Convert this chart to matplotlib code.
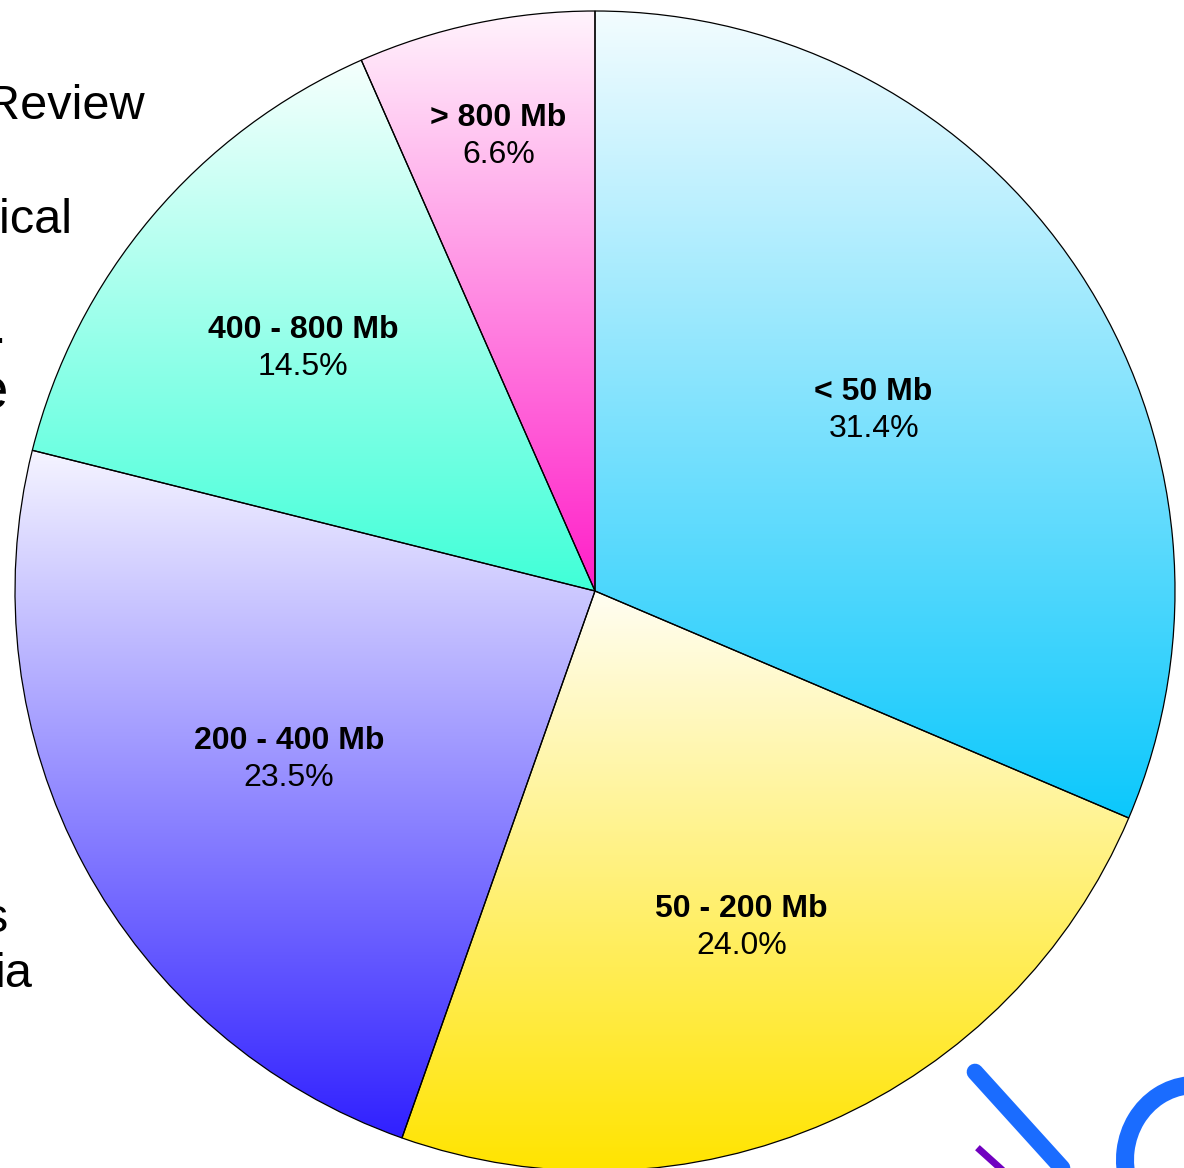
# disk usage pie chart, gradient-filled wedges over a partly hidden slide
import numpy as np
import matplotlib.pyplot as plt
from matplotlib.colors import to_rgb
from matplotlib.patches import Arc

plt.rcParams['font.family'] = ['Liberation Sans', 'DejaVu Sans']

# data
categories = ["< 50 Mb", "50 - 200 Mb", "200 - 400 Mb", "400 - 800 Mb", "> 800 Mb"]
shares = [31.4, 24.0, 23.5, 14.5, 6.6]
base_colors = ["#0cc8fc", "#ffe400", "#3020ff", "#40ffd8", "#ff1ec8"]
label_radius = [0.576, 0.627, 0.599, 0.658, 0.807]

# slide text peeking out from behind the chart (x right edge px, baseline px, size)
slide_words = ["Review", "pical", ".", "e", "s", "ia"]
slide_pos = [(145, 119, 35), (73, 233, 35), (6, 343, 35), (8, 408, 42), (8, 932, 35), (33, 987, 35)]

W, H = 1184, 1168
R_PX = 580
CX, CY = 595, 591

fig = plt.figure(figsize=(W / 100, H / 100), dpi=100)
ax = fig.add_axes([0, 0, 1, 1])
ax.axis('off')

wedges, _ = ax.pie(shares, startangle=90, counterclock=False, radius=1,
                   wedgeprops=dict(facecolor='none', edgecolor='black', linewidth=0.9, zorder=3))


def lighten(c, amt):
    c = np.array(to_rgb(c))
    return c + (1 - c) * amt


for w, col in zip(wedges, base_colors):
    ext = w.get_path().get_extents()
    top = lighten(col, 0.95)
    bot = np.array(to_rgb(col))
    t = np.linspace(0, 1, 256)[:, None]
    grad = (top[None, :] * (1 - t) + bot[None, :] * t)[:, None, :]
    im = ax.imshow(grad, extent=[ext.x0, ext.x1, ext.y0, ext.y1], origin='upper',
                   aspect='auto', interpolation='bilinear', zorder=2)
    im.set_clip_path(w)

# labels: bold name over the share
off = 18.5 / R_PX
nudge = 4 / R_PX  # va='center' sits a touch high
for w, name, v, r in zip(wedges, categories, shares, label_radius):
    mid = np.deg2rad((w.theta1 + w.theta2) / 2)
    x, y = r * np.cos(mid), r * np.sin(mid) - nudge
    ax.text(x, y + off, name, ha='center', va='center', fontsize=23,
            fontweight='bold', zorder=5)
    ax.text(x, y - off, f"{v:.1f}%", ha='center', va='center', fontsize=23, zorder=5)

ax.set_xlim(-CX / R_PX, (W - CX) / R_PX)
ax.set_ylim(-(H - CY) / R_PX, CY / R_PX)
ax.set_aspect('auto')

for word, (px, py, fs) in zip(slide_words, slide_pos):
    ax.text(px / W, 1 - py / H, word, transform=ax.transAxes, ha='right',
            va='baseline', fontsize=fs, zorder=0, clip_on=False)

# corner logo fragments
ax.plot([975 / W, 1062 / W], [1 - 1072 / H, 1 - 1168 / H], transform=ax.transAxes,
        color='#1a6cff', linewidth=12, solid_capstyle='round', zorder=1, clip_on=False)
ax.plot([980 / W, 1000 / W], [1 - 1150 / H, 1 - 1168 / H], transform=ax.transAxes,
        color='#7000c0', linewidth=5, zorder=1, clip_on=False)
ax.add_patch(Arc((1195 / W, 1 - 1160 / H), 140 / W, 150 / H, theta1=95, theta2=200,
                 transform=ax.transAxes, color='#1a6cff', linewidth=13, zorder=1))

fig.savefig('out.png', dpi=100)
